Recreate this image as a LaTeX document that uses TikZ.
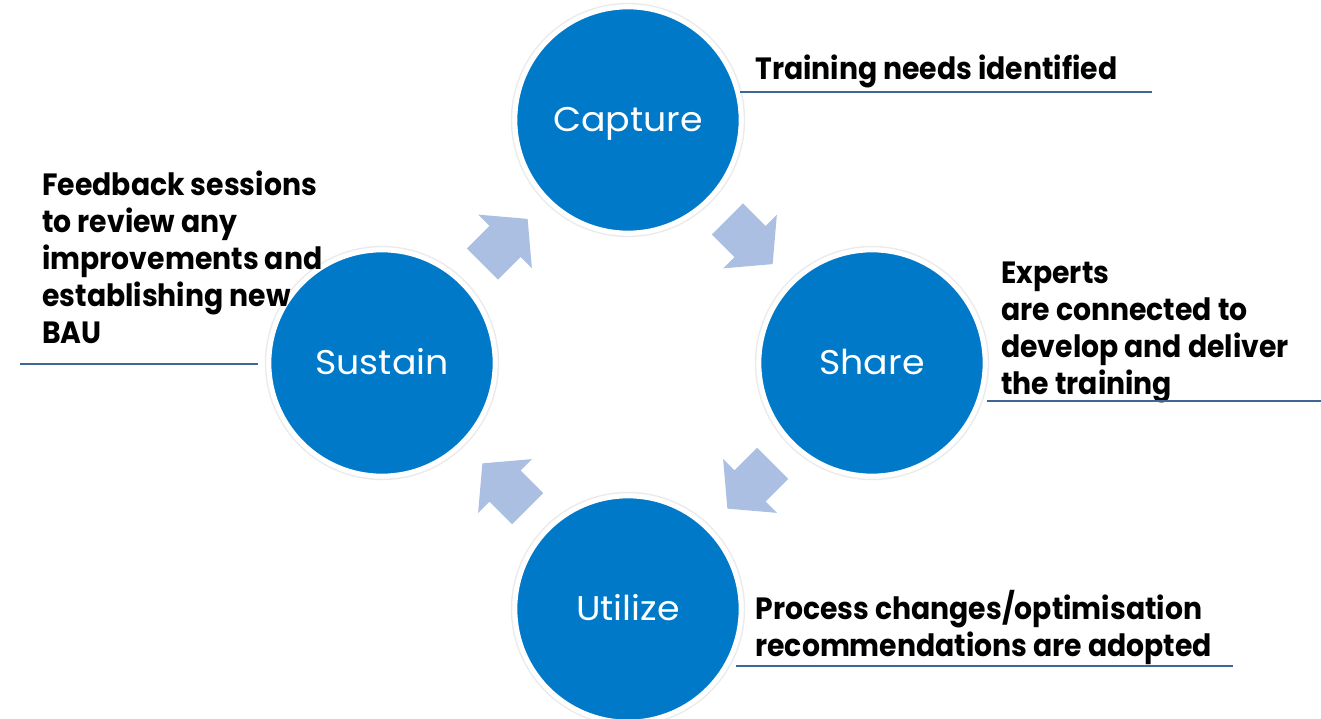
\documentclass[tikz,border=0pt]{standalone}
\usepackage{fontspec}
\setmainfont{Poppins}[BoldFeatures = {FakeStretch = 0.92}]
\newfontfamily\stagefont{Poppins}[FakeStretch = 1.06]
\usepackage{xcolor}
\usetikzlibrary{calc}

\definecolor{stageblue}{RGB}{0,121,200}
\definecolor{arrowblue}{RGB}{170,191,226}
\definecolor{ruleblue}{RGB}{62,102,150}

\tikzset{
  stage/.style = {circle,
      fill = stageblue,
      draw = white,
      line width = 1.5pt,
      minimum size = 4.48cm,
      text = white,
      font = \stagefont\fontsize{19.5}{23}\selectfont,
      text height = 13.5pt,
      text depth = 0pt},
  halo/.style = {draw = black!8,
      line width = 0.8pt},
  % notes sit on the baseline of their last line
  note/.style = {anchor = base west,
      align = left,
      inner sep = 0pt,
      font = \fontsize{17.5}{21}\selectfont\bfseries},
  noterule/.style = {draw = ruleblue,
      line width = 1.1pt},
  % block arrow between two stages, pointing along +x
  turn/.pic = {
    \fill[arrowblue] (-32,-22) -- (0,-22) -- (0,-38) -- (32,0)
      -- (0,38) -- (0,22) -- (-32,22) -- cycle;
  }
}

\begin{document}
\begin{tikzpicture}[x = 0.02cm, y = -0.02cm]
\useasboundingbox (0,0) rectangle (1321,719);
\clip (0,0) rectangle (1321,719);

% the four stages
\foreach \pos in {(628,120), (872,363), (628,609), (382,363)}
  \draw[halo] \pos circle[radius = 2.33cm];

\node[stage] (capture) at (628,120) {Capture};
\node[stage] (share) at (872,363) {Share};
\node[stage] (utilize) at (628,609) {Utilize};
\node[stage] (sustain) at (382,363) {Sustain};

% arrows of the cycle
\pic[rotate = 45] at ($(sustain)!0.5!(capture)$) {turn};
\pic[rotate = -45] at ($(capture)!0.5!(share)$) {turn};
\pic[rotate = -135] at ($(share)!0.5!(utilize)$) {turn};
\pic[rotate = 135] at ($(utilize)!0.5!(sustain)$) {turn};

% notes
\node[note] (needs) at (755,80) {Training needs identified};
\node[note] (experts) at (1001,394) {Experts\\are connected to\\develop and deliver\\the training};
\node[note] (process) at (755,656) {Process changes/optimisation\\recommendations are adopted};
\node[note] (feedback) at (42,343) {Feedback sessions\\to review any\\improvements and\\establishing new\\BAU};

\draw[noterule] (740,92) -- (1152,92);
\draw[noterule] (987,401) -- (1321,401);
\draw[noterule] (736,666) -- (1233,666);
\draw[noterule] (20,364) -- (258,364);

\end{tikzpicture}
\end{document}
